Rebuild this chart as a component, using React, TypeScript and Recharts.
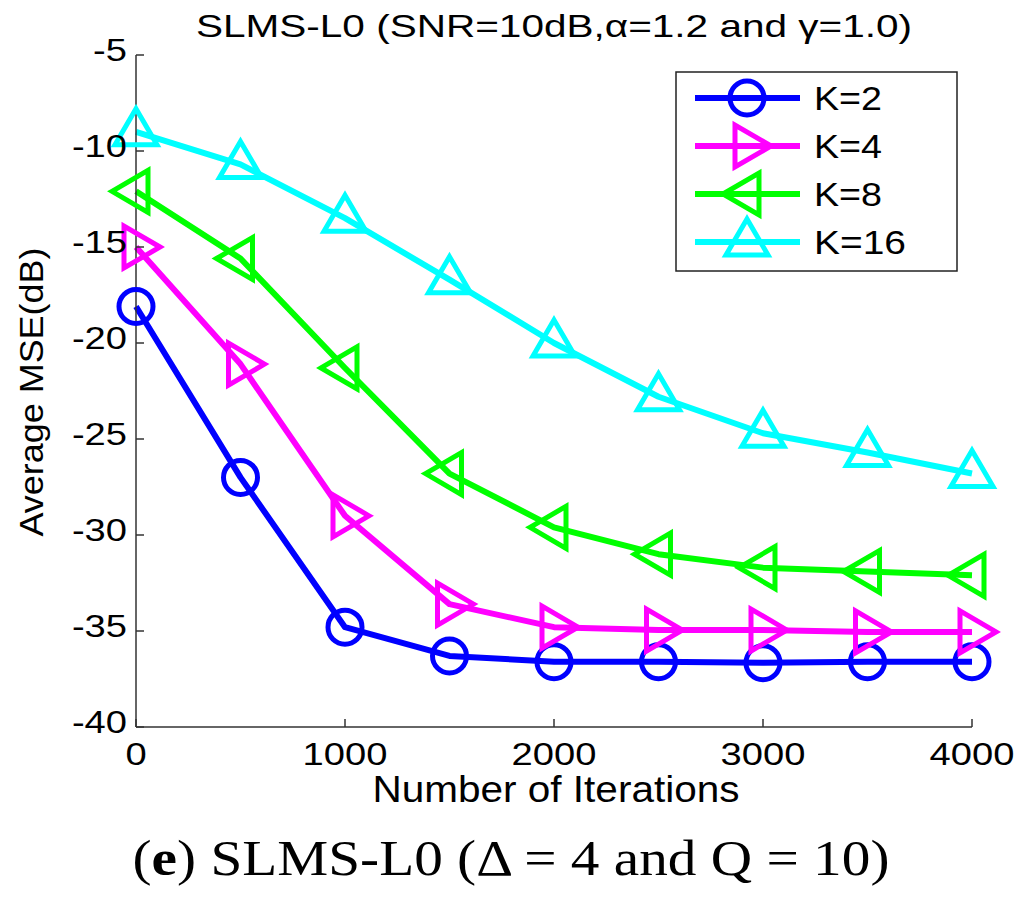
import React from 'react';
import { LineChart, Line, XAxis, YAxis, Legend } from 'recharts';

// values (dB)
const ITERATIONS = [0, 500, 1000, 1500, 2000, 2500, 3000, 3500, 4000];
const K2 = [-18.1, -27.0, -34.8, -36.3, -36.6, -36.6, -36.65, -36.6, -36.6];
const K4 = [-15.0, -21.1, -29.0, -33.6, -34.8, -34.95, -34.95, -35.05, -35.05];
const K8 = [-12.1, -15.6, -21.3, -26.8, -29.6, -31.0, -31.7, -31.9, -32.1];
const K16 = [-9.0, -10.7, -13.5, -16.7, -20.0, -22.8, -24.7, -25.7, -26.8];

const X_TICKS = [0, 1000, 2000, 3000, 4000];
const Y_TICKS = [-40, -35, -30, -25, -20, -15, -10, -5];

const SERIES = [
  { key: 'k2', name: 'K=2', color: '#0000ff', marker: 'circle', values: K2 },
  { key: 'k4', name: 'K=4', color: '#ff00ff', marker: 'right', values: K4 },
  { key: 'k8', name: 'K=8', color: '#00ff00', marker: 'left', values: K8 },
  { key: 'k16', name: 'K=16', color: '#00ffff', marker: 'up', values: K16 },
];

const data = ITERATIONS.map((it, i) => {
  const row: any = { it };
  SERIES.forEach(s => { row[s.key] = s.values[i]; });
  return row;
});

const FONT = 'Arial, "Liberation Sans", Helvetica, sans-serif';
const SX = 1.23; // the source figure is stretched horizontally

const Marker = ({ cx, cy, shape, color }: any) => {
  const sw = 5;
  if (shape === 'circle') {
    return <circle cx={cx} cy={cy} r={17} fill="none" stroke={color} strokeWidth={sw} />;
  }
  let pts: number[][] = [];
  if (shape === 'up') pts = [[0, -23], [21, 13], [-21, 13]];
  if (shape === 'right') pts = [[24, 0], [-12, -21], [-12, 21]];
  if (shape === 'left') pts = [[-24, 0], [12, -21], [12, 21]];
  return (
    <polygon
      points={pts.map(p => `${cx + p[0]},${cy + p[1]}`).join(' ')}
      fill="none"
      stroke={color}
      strokeWidth={sw}
      strokeLinejoin="miter"
    />
  );
};

const LeftTick = ({ x, y, payload }: any) => (
  <g>
    <line x1={x} y1={y} x2={x + 8} y2={y} stroke="#333" strokeWidth={1.5} />
    <text
      transform={`translate(${x - 9},${y + 6}) scale(${SX},1)`}
      textAnchor="end"
      fontFamily={FONT}
      fontSize={31}
      fill="#000"
    >
      {payload.value}
    </text>
  </g>
);

const BottomTick = ({ x, y, payload }: any) => (
  <g>
    <line x1={x} y1={y} x2={x} y2={y - 8} stroke="#333" strokeWidth={1.5} />
    <text
      transform={`translate(${x},${y + 38}) scale(${SX},1)`}
      textAnchor="middle"
      fontFamily={FONT}
      fontSize={31}
      fill="#000"
    >
      {payload.value}
    </text>
  </g>
);

const TopTick = ({ x, y }: any) => (
  <line x1={x} y1={y} x2={x} y2={y + 8} stroke="#333" strokeWidth={1.5} />
);

const RightTick = ({ x, y }: any) => (
  <line x1={x} y1={y} x2={x - 8} y2={y} stroke="#333" strokeWidth={1.5} />
);

const LegendBox = () => (
  <svg width={284} height={202} style={{ display: 'block' }}>
    <rect x={1} y={1} width={281} height={199} fill="#fff" stroke="#222" strokeWidth={1.5} />
    {SERIES.map((s, i) => {
      const cy = 27 + i * 48;
      return (
        <g key={s.key}>
          <line x1={20} y1={cy} x2={125} y2={cy} stroke={s.color} strokeWidth={6} />
          <Marker cx={72} cy={cy} shape={s.marker} color={s.color} />
          <text
            x={139}
            y={cy + 12}
            fontFamily={FONT}
            fontSize={33}
            textLength={s.name.length === 3 ? 68 : 92}
            lengthAdjust="spacingAndGlyphs"
            fill="#000"
          >
            {s.name}
          </text>
        </g>
      );
    })}
  </svg>
);

export default function App() {
  return (
    <div style={{ position: 'absolute', left: 0, top: 0, width: 1024, height: 901, background: '#fff' }}>
      <LineChart
        width={1024}
        height={901}
        data={data}
        margin={{ top: 55, right: 52, bottom: 134, left: 76 }}
      >
        <XAxis
          dataKey="it"
          type="number"
          domain={[0, 4000]}
          ticks={X_TICKS}
          height={40}
          tickSize={0}
          tickMargin={0}
          tick={BottomTick}
          axisLine={{ stroke: '#333', strokeWidth: 1.5 }}
          interval={0}
        />
        <XAxis
          xAxisId="top"
          orientation="top"
          dataKey="it"
          type="number"
          domain={[0, 4000]}
          ticks={X_TICKS}
          height={0}
          tickSize={0}
          tickMargin={0}
          tick={TopTick}
          axisLine={{ stroke: '#333', strokeWidth: 1.5 }}
          interval={0}
        />
        <YAxis
          type="number"
          domain={[-40, -5]}
          ticks={Y_TICKS}
          width={60}
          tickSize={0}
          tickMargin={0}
          tick={LeftTick}
          axisLine={{ stroke: '#333', strokeWidth: 1.5 }}
          interval={0}
        />
        <YAxis
          yAxisId="right"
          orientation="right"
          type="number"
          domain={[-40, -5]}
          ticks={Y_TICKS}
          width={0}
          tickSize={0}
          tickMargin={0}
          tick={RightTick}
          axisLine={{ stroke: '#999', strokeWidth: 1.5 }}
          interval={0}
        />
        {SERIES.map(s => (
          <Line
            key={s.key}
            dataKey={s.key}
            name={s.name}
            type="linear"
            stroke={s.color}
            strokeWidth={6}
            strokeLinejoin="round"
            dot={(p: any) => (
              <Marker key={`${s.key}-${p.index}`} cx={p.cx} cy={p.cy} shape={s.marker} color={s.color} />
            )}
            activeDot={false}
            isAnimationActive={false}
          />
        ))}
        <Legend
          layout="vertical"
          align="center"
          verticalAlign="middle"
          content={<LegendBox />}
          wrapperStyle={{ position: 'absolute', left: 675, top: 71, width: 284, height: 202 }}
        />
        <text
          x={554}
          y={37}
          textAnchor="middle"
          fontFamily={FONT}
          fontSize={32}
          textLength={716}
          lengthAdjust="spacingAndGlyphs"
          fill="#000"
        >
          SLMS-L0 (SNR=10dB,α=1.2 and γ=1.0)
        </text>
        <text
          x={556}
          y={802}
          textAnchor="middle"
          fontFamily={FONT}
          fontSize={36}
          textLength={367}
          lengthAdjust="spacingAndGlyphs"
          fill="#000"
        >
          Number of Iterations
        </text>
        <text
          transform="translate(43,392) rotate(-90)"
          textAnchor="middle"
          fontFamily={FONT}
          fontSize={33}
          textLength={289}
          lengthAdjust="spacingAndGlyphs"
          fill="#000"
        >
          Average MSE(dB)
        </text>
        <text
          x={511}
          y={875}
          textAnchor="middle"
          fontFamily='"Liberation Serif", "DejaVu Serif", serif'
          fontSize={50}
          textLength={757}
          lengthAdjust="spacingAndGlyphs"
          fill="#000"
        >
          (<tspan fontWeight="bold">e</tspan>) SLMS-L0 (Δ = 4 and Q = 10)
        </text>
      </LineChart>
    </div>
  );
}
